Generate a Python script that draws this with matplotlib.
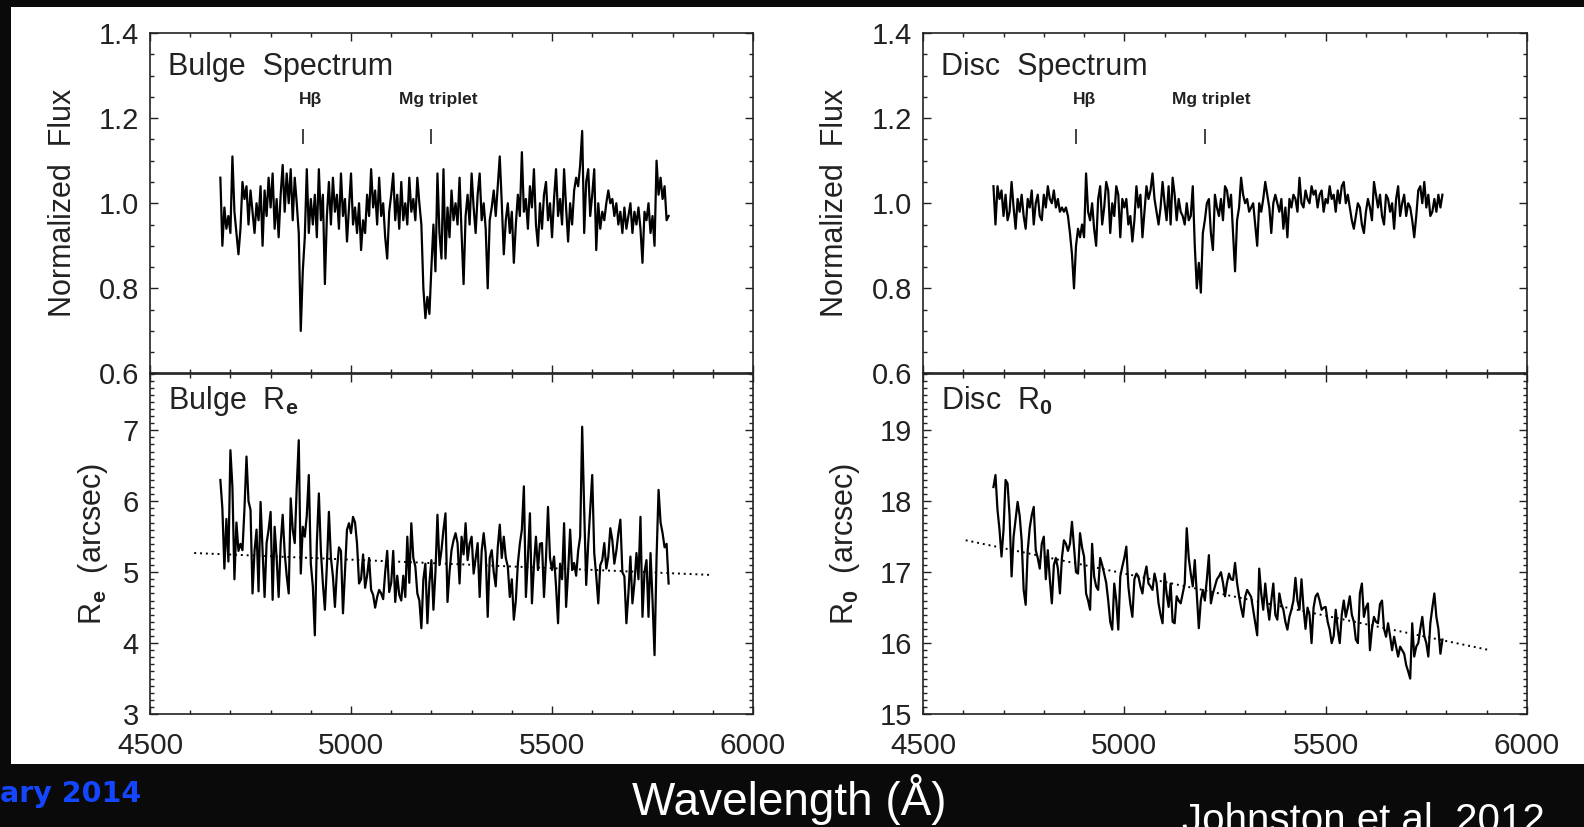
import numpy as np
import matplotlib
matplotlib.use('Agg')
from matplotlib import pyplot as plt
from matplotlib.patches import Rectangle
from matplotlib.ticker import MultipleLocator, FormatStrFormatter

plt.rcParams['font.family'] = ['Liberation Sans', 'DejaVu Sans']
plt.rcParams['mathtext.fontset'] = 'custom'
plt.rcParams['mathtext.rm'] = 'Liberation Sans'
plt.rcParams['mathtext.bf'] = 'Liberation Sans:bold'

# all four curves are sampled every 5 Angstrom starting at 4675
wl_start = 4675
wl_step = 5

bulge_flux = [
    1.06, 0.90, 0.99, 0.94, 0.97, 0.93, 1.11, 0.98, 0.93, 0.88,
    0.94, 1.05, 1.01, 1.04, 0.95, 1.03, 0.98, 0.93, 1.00, 0.96,
    1.04, 0.90, 1.03, 0.97, 1.06, 0.99, 1.07, 0.94, 1.01, 0.92,
    1.02, 1.09, 0.98, 1.07, 1.00, 1.08, 0.96, 1.06, 1.00, 0.93,
    0.70, 0.84, 0.92, 1.08, 0.93, 1.01, 0.95, 1.02, 0.92, 1.08,
    0.96, 1.02, 0.81, 0.97, 1.05, 0.95, 1.06, 0.98, 1.02, 0.94,
    1.07, 0.97, 1.01, 0.91, 0.99, 1.07, 0.95, 0.99, 0.93, 1.00,
    0.89, 0.96, 0.93, 1.02, 0.97, 1.08, 0.99, 1.03, 0.95, 1.06,
    0.97, 1.00, 0.92, 0.87, 0.98, 1.02, 1.07, 0.96, 1.02, 0.94,
    1.05, 0.96, 1.00, 0.95, 1.06, 0.98, 1.01, 0.96, 1.06, 1.00,
    0.95, 0.80, 0.73, 0.78, 0.74, 0.85, 0.95, 0.84, 1.07, 0.93,
    0.87, 1.08, 0.87, 0.99, 0.92, 1.03, 0.96, 1.00, 0.95, 1.06,
    0.93, 0.81, 0.97, 1.02, 0.95, 1.07, 0.99, 0.93, 1.02, 1.07,
    0.96, 1.00, 0.94, 0.80, 0.96, 0.99, 1.03, 0.97, 1.04, 1.11,
    1.00, 0.88, 0.96, 1.00, 0.93, 0.98, 0.86, 0.95, 1.02, 0.97,
    1.12, 0.98, 1.01, 0.94, 1.04, 0.99, 1.08, 0.95, 0.90, 1.00,
    0.94, 1.02, 1.05, 0.96, 1.00, 0.92, 1.01, 1.08, 0.97, 1.01,
    0.95, 1.08, 0.99, 0.91, 1.00, 0.95, 1.03, 1.06, 1.04, 1.09,
    1.17, 0.93, 1.05, 1.08, 0.97, 1.02, 1.08, 0.89, 1.00, 0.94,
    0.98, 0.96, 1.00, 1.03, 1.00, 1.01, 0.97, 1.00, 0.95, 0.98,
    0.93, 0.99, 0.94, 0.97, 1.00, 0.93, 0.98, 0.95, 0.99, 0.94,
    0.86, 0.98, 0.96, 1.00, 0.93, 0.97, 0.90, 1.10, 1.02, 1.06,
    1.01, 1.04, 0.96, 0.97,
]

disc_flux = [
    1.04, 0.95, 1.04, 1.01, 1.03, 0.97, 1.02, 0.96, 0.98, 1.05,
    0.99, 0.94, 1.01, 0.98, 1.02, 0.97, 0.94, 1.01, 0.99, 1.03,
    0.95, 1.00, 1.02, 0.97, 0.96, 1.02, 0.99, 1.04, 1.01, 1.00,
    1.03, 0.99, 1.01, 0.98, 0.99, 0.98, 0.99, 0.97, 0.93, 0.88,
    0.80, 0.90, 0.94, 0.92, 0.95, 0.92, 1.07, 0.98, 0.96, 1.00,
    0.94, 0.90, 1.01, 1.04, 0.95, 0.99, 1.05, 1.03, 0.93, 1.00,
    0.97, 1.04, 1.02, 0.92, 1.01, 0.99, 1.01, 0.95, 0.97, 0.91,
    0.96, 1.04, 0.99, 1.02, 0.92, 0.98, 1.04, 1.01, 1.03, 1.07,
    1.01, 0.98, 0.95, 0.99, 1.05, 1.00, 0.96, 1.04, 0.95, 1.06,
    1.02, 0.96, 1.01, 0.98, 0.97, 0.95, 1.00, 0.96, 0.97, 1.04,
    0.90, 0.80, 0.86, 0.79, 0.93, 0.96, 1.00, 1.01, 0.93, 0.89,
    1.02, 0.99, 0.97, 1.01, 0.96, 1.04, 1.03, 0.99, 1.02, 0.93,
    0.84, 0.96, 0.99, 1.06, 1.02, 1.00, 1.01, 0.98, 0.99, 1.00,
    0.95, 0.90, 1.00, 0.98, 1.01, 1.05, 1.02, 0.99, 0.93, 1.00,
    1.02, 1.00, 0.98, 1.01, 0.94, 0.99, 0.92, 1.01, 0.99, 1.02,
    1.01, 0.98, 1.06, 1.00, 0.99, 1.03, 1.01, 1.00, 1.04, 1.02,
    1.03, 0.99, 1.02, 1.03, 0.98, 1.01, 1.00, 1.04, 1.01, 1.02,
    0.98, 1.03, 1.00, 1.04, 1.05, 1.00, 1.02, 0.99, 0.96, 0.94,
    0.97, 1.00, 0.99, 0.95, 0.93, 0.98, 1.01, 0.99, 0.96, 1.05,
    1.02, 0.99, 1.02, 0.97, 0.95, 1.02, 1.01, 0.98, 1.00, 0.94,
    1.01, 1.04, 0.97, 1.00, 1.02, 0.97, 1.00, 0.99, 0.96, 0.92,
    0.97, 1.03, 1.04, 1.00, 1.05, 0.99, 1.02, 0.97, 0.98, 1.01,
    0.98, 1.02, 0.99, 1.02,
]

bulge_re = [
    6.30, 5.90, 5.05, 5.75, 5.15, 6.72, 6.20, 4.90, 5.70, 5.30,
    5.40, 5.31, 5.90, 6.63, 6.00, 5.88, 4.70, 5.30, 5.60, 4.73,
    5.99, 5.30, 4.65, 5.41, 5.60, 5.85, 4.61, 5.64, 5.20, 4.65,
    5.40, 5.81, 5.27, 4.95, 4.70, 6.04, 5.60, 5.41, 6.20, 6.86,
    4.98, 5.64, 5.50, 5.80, 6.37, 5.12, 4.80, 4.11, 5.41, 6.11,
    5.30, 4.84, 4.47, 5.10, 5.85, 5.20, 4.94, 4.51, 5.03, 5.35,
    5.30, 4.42, 5.00, 5.60, 5.69, 5.55, 5.78, 5.70, 5.40, 4.84,
    4.90, 5.25, 4.78, 4.95, 5.20, 4.75, 4.68, 4.50, 4.65, 4.75,
    4.70, 4.62, 5.00, 5.30, 4.72, 4.85, 5.30, 4.58, 4.95, 4.68,
    4.60, 4.95, 4.65, 5.50, 4.85, 5.69, 5.20, 5.08, 4.70, 4.60,
    4.21, 4.90, 5.12, 4.28, 4.85, 5.17, 4.47, 5.00, 5.81, 5.10,
    5.31, 5.60, 5.83, 4.58, 5.00, 5.31, 5.45, 5.55, 5.41, 4.84,
    5.50, 5.25, 5.69, 5.17, 5.40, 5.50, 4.98, 5.20, 5.41, 4.65,
    5.30, 5.55, 5.27, 4.37, 5.20, 5.31, 5.00, 4.80, 5.35, 5.67,
    5.20, 5.50, 5.20, 5.08, 4.65, 4.90, 4.33, 4.60, 5.12, 5.40,
    5.60, 6.21, 4.65, 5.20, 5.83, 4.56, 5.10, 5.50, 5.03, 5.40,
    5.41, 4.65, 5.20, 5.92, 5.20, 5.03, 5.22, 4.80, 4.28, 5.12,
    4.90, 5.69, 4.51, 5.00, 5.60, 5.03, 5.13, 4.95, 5.30, 5.50,
    7.05, 5.88, 4.82, 5.40, 5.88, 6.37, 5.27, 4.95, 4.56, 5.10,
    5.17, 5.41, 5.05, 5.22, 5.62, 5.45, 5.12, 5.30, 5.55, 5.74,
    5.00, 4.94, 4.28, 4.70, 5.22, 4.56, 4.85, 5.27, 4.90, 5.78,
    4.37, 5.00, 5.17, 4.37, 5.27, 4.60, 3.83, 5.20, 6.16, 5.70,
    5.55, 5.35, 5.40, 4.84,
]

disc_r0 = [
    18.20, 18.37, 17.88, 17.60, 17.22, 17.60, 18.30, 18.25, 17.80, 16.94,
    17.50, 17.75, 17.99, 17.80, 17.45, 16.75, 16.54, 17.30, 17.62, 17.80,
    17.92, 17.31, 17.20, 17.05, 17.40, 17.50, 16.90, 17.31, 16.90, 16.56,
    17.10, 17.20, 17.05, 16.70, 17.20, 17.45, 17.40, 17.30, 17.40, 17.71,
    17.36, 17.00, 16.98, 17.55, 17.35, 17.22, 16.70, 16.60, 16.47, 17.40,
    16.94, 16.80, 16.75, 17.20, 17.10, 16.98, 16.85, 16.60, 16.30, 16.19,
    16.84, 16.60, 16.19, 16.94, 17.08, 17.20, 17.36, 16.80, 16.55, 16.37,
    16.90, 16.98, 16.94, 16.80, 16.70, 16.95, 17.08, 16.84, 16.80, 16.75,
    16.98, 16.85, 16.56, 16.40, 16.28, 16.98, 16.70, 16.51, 16.84, 16.30,
    16.28, 16.66, 16.60, 16.56, 16.70, 16.84, 17.62, 17.20, 16.98, 16.80,
    17.17, 16.70, 16.21, 16.60, 16.75, 16.60, 16.90, 17.24, 16.56, 16.70,
    16.80, 16.90, 16.94, 17.00, 16.85, 16.66, 16.85, 16.98, 16.90, 16.89,
    17.13, 16.85, 16.66, 16.50, 16.37, 16.65, 16.75, 16.70, 16.65, 16.47,
    16.30, 16.11, 17.05, 16.70, 16.47, 16.84, 16.55, 16.33, 16.60, 16.84,
    16.40, 16.33, 16.70, 16.55, 16.47, 16.30, 16.19, 16.37, 16.47, 16.60,
    16.92, 16.60, 16.47, 16.90, 16.50, 16.20, 16.50, 16.40, 16.00, 16.50,
    16.66, 16.70, 16.60, 16.47, 16.50, 16.51, 16.30, 16.19, 16.00, 16.10,
    16.47, 16.20, 16.00, 16.40, 16.60, 16.37, 16.50, 16.66, 16.40, 16.30,
    16.05, 16.00, 16.70, 16.84, 16.37, 16.50, 16.56, 15.90, 16.20, 16.37,
    16.30, 16.28, 16.55, 16.60, 16.20, 16.09, 16.28, 16.10, 15.90, 16.09,
    15.95, 15.81, 15.95, 15.90, 15.85, 15.69, 15.60, 15.50, 16.28, 15.81,
    15.95, 16.00, 16.20, 16.37, 16.10, 16.00, 15.81, 16.28, 16.50, 16.70,
    16.37, 16.20, 15.85, 16.05,
]

# linear fits (dotted lines), end points
bulge_fit_wl = [4610, 5900]
bulge_fit = [5.27, 4.96]
disc_fit_wl = [4606, 5908]
disc_fit = [17.45, 15.90]

# absorption features marked on the spectra
line_names = ['H\u03b2', 'Mg triplet']
line_wl = [4880, 5200]
line_label_wl = [4871, 5119]


def style_axis(ax, ylim, major, minor, fmt):
    ax.set_xlim(4500, 6000)
    ax.set_ylim(*ylim)
    ax.xaxis.set_major_locator(MultipleLocator(500))
    ax.xaxis.set_minor_locator(MultipleLocator(100))
    ax.yaxis.set_major_locator(MultipleLocator(major))
    ax.yaxis.set_minor_locator(MultipleLocator(minor))
    ax.yaxis.set_major_formatter(FormatStrFormatter(fmt))
    ax.tick_params(which='both', direction='in', top=True, right=True,
                   width=1.0, color='#222222', labelcolor='#222222')
    ax.tick_params(which='major', length=6)
    ax.tick_params(which='minor', length=3)
    ax.tick_params(axis='x', labelsize=21.5, pad=13)
    ax.tick_params(axis='y', labelsize=21, pad=8)
    for s in ax.spines.values():
        s.set_linewidth(1.2)
        s.set_color('#222222')


def spectrum_panel(ax, flux, title):
    wl = wl_start + wl_step * np.arange(len(flux))
    ax.plot(wl, flux, color='black', lw=1.6)
    style_axis(ax, (0.6, 1.4), 0.2, 0.05, '%.1f')
    ax.tick_params(axis='x', labelbottom=False)
    ax.set_ylabel('Normalized  Flux', fontsize=22, color='#222222', va='center')
    ax.text(0.03, 0.90, title, transform=ax.transAxes, fontsize=22,
            color='#222222', va='center', ha='left')
    ax.vlines(line_wl, 1.14, 1.175, color='#222222', lw=1.2)
    for name, x in zip(line_names, line_label_wl):
        ax.text(x, 1.243, name, fontsize=12.5, fontweight='bold',
                color='#222222', va='center', ha='left')


def radius_panel(ax, vals, fit_wl, fit, ylim, title, ylabel):
    wl = wl_start + wl_step * np.arange(len(vals))
    ax.plot(fit_wl, fit, color='black', lw=1.4, ls=(0, (1, 2)))
    ax.plot(wl, vals, color='black', lw=1.6)
    style_axis(ax, ylim, 1, 0.1, '%d')
    ax.set_ylabel(ylabel, fontsize=22, color='#222222', va='center')
    ax.text(0.03, 0.92, title, transform=ax.transAxes, fontsize=22,
            color='#222222', va='center', ha='left')


fig = plt.figure(figsize=(15.84, 8.27), dpi=100, facecolor='#0a0a0a')
fig.add_artist(Rectangle((11 / 1584, 1 - 764 / 827), 1 - 11 / 1584, 757 / 827,
                         transform=fig.transFigure, facecolor='white',
                         edgecolor='none', zorder=0))

ax_bs = fig.add_axes([0.0947, 0.5484, 0.3807, 0.4117])
ax_br = fig.add_axes([0.0947, 0.1366, 0.3807, 0.4117])
ax_ds = fig.add_axes([0.5827, 0.5484, 0.3813, 0.4117])
ax_dr = fig.add_axes([0.5827, 0.1366, 0.3813, 0.4117])

spectrum_panel(ax_bs, bulge_flux, 'Bulge  Spectrum')
spectrum_panel(ax_ds, disc_flux, 'Disc  Spectrum')
radius_panel(ax_br, bulge_re, bulge_fit_wl, bulge_fit, (3, 7.8),
             r'Bulge  R$_\mathbf{e}$', r'R$_\mathbf{e}$  (arcsec)')
radius_panel(ax_dr, disc_r0, disc_fit_wl, disc_fit, (15, 19.8),
             r'Disc  R$_\mathbf{0}$', r'R$_\mathbf{0}$  (arcsec)')

ax_bs.yaxis.set_label_coords(-0.144, 0.5)
ax_ds.yaxis.set_label_coords(-0.146, 0.5)
ax_br.yaxis.set_label_coords(-0.095, 0.5)
ax_dr.yaxis.set_label_coords(-0.129, 0.5)

fig.text(789 / 1584, 1 - 815 / 827, 'Wavelength (\u00c5)', color='white',
         fontsize=33, ha='center', va='baseline')
fig.text(0.0, 1 - 802 / 827, 'ary 2014', color='#1446ff', fontsize=20.5,
         fontweight='bold', family='DejaVu Sans', ha='left', va='baseline')
fig.text(1182 / 1584, 1 - 832 / 827, 'Johnston et al. 2012', color='white',
         fontsize=29, ha='left', va='baseline')

fig.savefig('out.png', dpi=100, facecolor=fig.get_facecolor())
